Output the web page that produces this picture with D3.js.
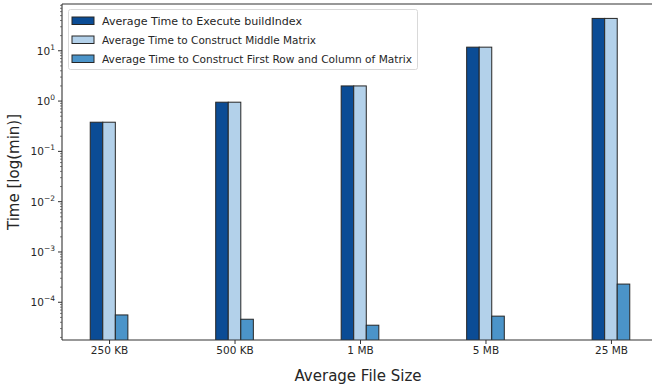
<!DOCTYPE html>
<html>
<head>
<meta charset="utf-8">
<script src="https://cdn.jsdelivr.net/npm/d3@7/dist/d3.min.js"></script>
<style>
  html, body { margin: 0; padding: 0; background: #fff; }
  svg { display: block; font-family: "DejaVu Sans", sans-serif; }
</style>
</head>
<body>
<svg id="chart" width="652" height="387"></svg>
<script>
// File-size groups on the x axis
const categories = ["250 KB", "500 KB", "1 MB", "5 MB", "25 MB"];

// Timings in minutes, one array per series
const buildIndexTime   = [0.38, 0.95, 2.0, 11.8, 44];
const middleMatrixTime = [0.38, 0.95, 2.0, 11.8, 44];
const firstRowColTime  = [5.6e-5, 4.6e-5, 3.5e-5, 5.3e-5, 2.3e-4];

const seriesNames = [
  "Average Time to Execute buildIndex",
  "Average Time to Construct Middle Matrix",
  "Average Time to Construct First Row and Column of Matrix"
];
const seriesColors = ["#0b4c95", "#b3d1ea", "#4b94c9"];
const yTickExponents = [-4, -3, -2, -1, 0, 1];

const series = [buildIndexTime, middleMatrixTime, firstRowColTime];

const svg = d3.select("#chart");
const plot = { left: 62, right: 658, top: 4, bottom: 340 };

const x = d3.scaleLinear()
  .domain([-0.375, categories.length - 1 + 0.375])
  .range([plot.left, plot.right]);
const y = d3.scaleLog()
  .domain([Math.pow(10, -4.75), Math.pow(10, 1.93)])
  .range([plot.bottom, plot.top]);

const barW = 0.1;
const offsets = [-0.1, 0, 0.1];

svg.append("defs").append("clipPath").attr("id", "plotclip")
  .append("rect")
  .attr("x", plot.left).attr("y", plot.top)
  .attr("width", plot.right - plot.left).attr("height", plot.bottom - plot.top);

const barsG = svg.append("g").attr("clip-path", "url(#plotclip)");
series.forEach((vals, s) => {
  barsG.selectAll(null)
    .data(vals)
    .enter().append("rect")
    .attr("x", (d, i) => x(i + offsets[s] - barW / 2))
    .attr("width", x(barW) - x(0))
    .attr("y", d => y(d))
    .attr("height", d => plot.bottom + 2 - y(d))
    .attr("fill", seriesColors[s])
    .attr("stroke", "#262626")
    .attr("stroke-width", 1);
});

// Spines
const spine = svg.append("g").attr("stroke", "#333").attr("stroke-width", 1.1).attr("fill", "none");
spine.append("line").attr("x1", plot.left).attr("x2", plot.left).attr("y1", plot.top).attr("y2", plot.bottom);
spine.append("line").attr("x1", plot.left).attr("x2", plot.right).attr("y1", plot.bottom).attr("y2", plot.bottom);
spine.append("line").attr("x1", plot.left).attr("x2", plot.right).attr("y1", plot.top).attr("y2", plot.top);
spine.append("line").attr("x1", plot.right).attr("x2", plot.right).attr("y1", plot.top).attr("y2", plot.bottom);

// X axis ticks and labels
const xAxis = d3.axisBottom(x)
  .tickValues(d3.range(categories.length))
  .tickFormat(i => categories[i])
  .tickSize(4).tickPadding(3);
const gx = svg.append("g").attr("transform", `translate(0,${plot.bottom})`).call(xAxis);
gx.select(".domain").remove();
gx.selectAll(".tick line").attr("stroke", "#333");
gx.selectAll(".tick text").attr("font-size", 10.5).attr("fill", "#262626")
  .attr("font-family", "DejaVu Sans, sans-serif");

// Y axis: major ticks at decades, minor ticks at 2..9
const minorVals = [];
for (let e = -5; e <= 1; e++) {
  for (let m = 2; m <= 9; m++) {
    const v = m * Math.pow(10, e);
    if (v >= y.domain()[0] && v <= y.domain()[1]) minorVals.push(v);
  }
}
svg.append("g").selectAll("line").data(minorVals).enter().append("line")
  .attr("x1", plot.left - 2).attr("x2", plot.left)
  .attr("y1", d => y(d)).attr("y2", d => y(d))
  .attr("stroke", "#444").attr("stroke-width", 0.7);

const majG = svg.append("g");
yTickExponents.forEach(e => {
  const yy = y(Math.pow(10, e));
  majG.append("line")
    .attr("x1", plot.left - 4).attr("x2", plot.left)
    .attr("y1", yy).attr("y2", yy)
    .attr("stroke", "#333").attr("stroke-width", 1);
  const t = majG.append("text")
    .attr("x", plot.left - 7).attr("y", yy + 4)
    .attr("text-anchor", "end").attr("font-size", 10.5).attr("fill", "#262626");
  t.append("tspan").text("10");
  t.append("tspan").attr("dy", -5).attr("font-size", 7.5)
    .text(e < 0 ? "\u2212" + Math.abs(e) : String(e));
});

// Axis titles
svg.append("text")
  .attr("transform", `translate(19,${(plot.top + plot.bottom) / 2}) rotate(-90)`)
  .attr("text-anchor", "middle").attr("font-size", 15).attr("fill", "#262626")
  .text("Time [log(min)]");
svg.append("text")
  .attr("x", 358).attr("y", 381)
  .attr("text-anchor", "middle").attr("font-size", 15).attr("fill", "#262626")
  .text("Average File Size");

// Legend
const lg = svg.append("g");
lg.append("rect")
  .attr("x", 68.5).attr("y", 9.5).attr("width", 349).attr("height", 60)
  .attr("rx", 2).attr("fill", "#fff").attr("fill-opacity", 0.9)
  .attr("stroke", "#d9d9d9").attr("stroke-width", 1);
const legendTextWidths = [200, 214, 310];
seriesNames.forEach((name, i) => {
  const yy = 17 + i * 19;
  lg.append("rect")
    .attr("x", 72).attr("y", yy).attr("width", 22).attr("height", 7.5)
    .attr("fill", seriesColors[i]).attr("stroke", "#262626").attr("stroke-width", 1);
  lg.append("text")
    .attr("x", 102).attr("y", yy + 8)
    .attr("font-size", 11).attr("fill", "#262626")
    .attr("textLength", legendTextWidths[i]).attr("lengthAdjust", "spacingAndGlyphs")
    .text(name);
});
</script>
</body>
</html>
